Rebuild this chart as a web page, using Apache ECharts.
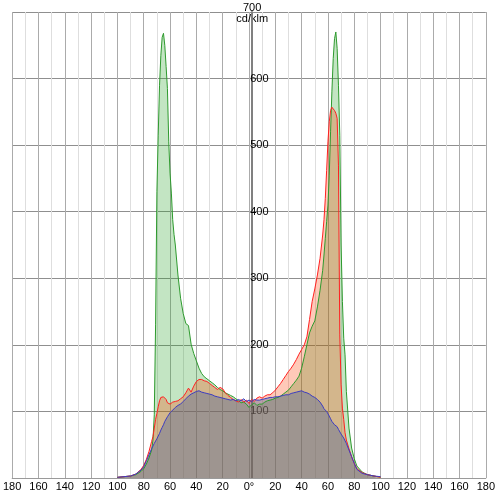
<!DOCTYPE html>
<html>
<head>
<meta charset="utf-8">
<script src="https://cdn.jsdelivr.net/npm/echarts@6/dist/echarts.min.js"></script>
<style>
  html, body { margin: 0; padding: 0; background: #fff; }
  #chart { width: 498px; height: 494px; }
</style>
</head>
<body>
<div id="chart"></div>
<script>
// Luminous intensity distribution (cd/klm) over the gamma angle, three C-planes.
const angles = [
  -100, -95, -90, -86, -82, -80, -78, -76, -74, -73, -72, -71, -70, -69, -68, -67, -66, -65,
  -64, -63, -62, -61, -60, -59, -58, -57, -56, -54, -52, -50, -48, -46, -44, -42,
  -40, -38, -36, -34, -32, -30, -28, -26, -24, -22, -20, -18, -16, -14, -12, -10, -8, -6, -4, -2,
  0, 2, 4, 6, 8, 10, 12, 14, 16, 18, 20, 22, 24, 26, 28, 30, 32, 34, 36, 38, 40,
  42, 44, 46, 48, 50, 52, 54, 56, 57, 58, 59, 60, 61, 62, 63, 64, 65, 66, 67, 68, 69, 70,
  71, 72, 73, 74, 76, 78, 80, 82, 86, 90, 95, 100
];

const greenPlane = [
  1, 2, 3, 5, 10, 14, 21, 30, 42, 57, 95, 230, 430, 515, 590, 635, 662, 668,
  650, 618, 585, 505, 458, 428, 388, 366, 350, 305, 270, 247, 232, 229, 201, 187,
  176, 165, 157, 152, 149, 146, 143, 140, 136, 133, 131, 128, 126, 124, 122, 119, 116, 113, 114, 111,
  106, 110, 113, 109, 111, 111, 114, 116, 117, 118, 120, 121, 123, 126, 129, 132, 137, 142, 147, 153, 165,
  182, 200, 218, 228, 236, 257, 282, 312, 335, 360, 385, 410, 455, 520, 580, 630, 660, 670, 645, 590, 515, 350,
  265, 210, 185, 130, 75, 45, 29, 18, 9, 5, 3, 1
];

const redPlane = [
  1, 2, 3, 6, 13, 19, 28, 40, 55, 62, 75, 88, 97, 107, 116, 121, 123, 122,
  121, 118, 113, 112, 111, 112, 114, 113, 115, 116, 119, 122, 128, 135, 129, 138,
  145, 148, 148, 146, 145, 142, 139, 136, 133, 136, 134, 128, 124, 121, 118, 116, 114, 118, 114, 117,
  112, 118, 115, 120, 122, 120, 123, 125, 125, 128, 132, 137, 142, 148, 154, 160, 165, 171, 178, 186, 193,
  200, 212, 238, 265, 284, 305, 330, 365, 388, 420, 462, 505, 535, 552, 557, 556, 552, 548, 540, 470, 215, 140,
  105, 88, 68, 57, 44, 32, 22, 14, 8, 5, 3, 1
];

const bluePlane = [
  1, 2, 3, 6, 12, 17, 26, 35, 44, 48, 52, 55, 59, 63, 67, 72, 76, 80,
  85, 88, 92, 95, 98, 100, 102, 104, 106, 109, 111, 115, 119, 123, 126, 128,
  130, 131, 129, 128, 127, 126, 125, 123, 122, 121, 120, 119, 118, 117, 118, 116, 118, 116, 119, 115,
  117, 115, 118, 117, 117, 118, 119, 120, 121, 121, 122, 122, 123, 124, 125, 125, 127, 128, 129, 130, 131,
  129, 128, 126, 123, 121, 118, 114, 108, 104, 102, 100, 97, 93, 89, 85, 82, 80, 78, 77, 73, 70, 66,
  63, 60, 57, 52, 42, 32, 22, 13, 7, 5, 3, 2
];

const yTicks = [0, 100, 200, 300, 400, 500, 600, 700];
const unitLabel = 'cd/klm';

const pairs = vals => angles.map((a, i) => [a, vals[i]]);

const font = 'Liberation Sans, Arial, sans-serif';
const gridLeft = 9, gridRight = 9, chartWidth = 498;
// place the intensity axis on the 0° line, in the middle of the plot
const centerOffset = -(chartWidth - gridLeft - gridRight) / 2;

function plane(name, vals, line, fill) {
  return {
    name: name,
    type: 'line',
    data: pairs(vals),
    showSymbol: false,
    symbol: 'none',
    smooth: false,
    lineStyle: { color: line, width: 1 },
    itemStyle: { color: line },
    areaStyle: { color: fill, opacity: 1 },
    silent: true,
    animation: false
  };
}

const chart = echarts.init(document.getElementById('chart'), null, { renderer: 'canvas' });
chart.setOption({
  backgroundColor: '#ffffff',
  animation: false,
  grid: { left: gridLeft, right: gridRight, top: 12, bottom: 16, containLabel: false },
  xAxis: {
    type: 'value',
    min: -180,
    max: 180,
    interval: 20,
    axisLine: { show: true, onZero: false, lineStyle: { color: '#9a9a9a', width: 1 } },
    axisTick: { show: false },
    axisLabel: {
      show: true,
      color: '#000',
      fontSize: 11,
      fontFamily: font,
      margin: 3,
      showMinLabel: true,
      showMaxLabel: true,
      formatter: v => (v === 0 ? '0°' : String(Math.abs(v)))
    },
    splitLine: { show: true, lineStyle: { color: '#ababab', width: 1 } },
    minorTick: { show: false, splitNumber: 2 },
    minorSplitLine: { show: true, lineStyle: { color: '#dedede', width: 1 } }
  },
  yAxis: {
    type: 'value',
    position: 'left',
    offset: centerOffset,
    min: yTicks[0],
    max: yTicks[yTicks.length - 1],
    interval: 100,
    name: yTicks[yTicks.length - 1] + '\n' + unitLabel,
    nameLocation: 'end',
    nameGap: -12,
    nameTextStyle: { color: '#000', fontSize: 11, fontFamily: font, lineHeight: 11, align: 'center' },
    axisLine: { show: true, onZero: false, lineStyle: { color: '#808080', width: 2 } },
    axisTick: { show: false },
    axisLabel: {
      inside: true,
      margin: -2,
      color: '#000',
      fontSize: 11,
      fontFamily: font,
      formatter: v => (v === yTicks[0] || v === yTicks[yTicks.length - 1] ? '' : String(v))
    },
    splitLine: { show: true, lineStyle: { color: '#8f8f8f', width: 1 } }
  },
  series: [
    plane('C90', greenPlane, '#2e9a2e', 'rgba(40,160,40,0.28)'),
    plane('C0', redPlane, '#ff2020', 'rgba(255,60,0,0.28)'),
    plane('C45', bluePlane, '#3c3cc0', 'rgba(80,100,150,0.40)')
  ]
});
</script>
</body>
</html>
